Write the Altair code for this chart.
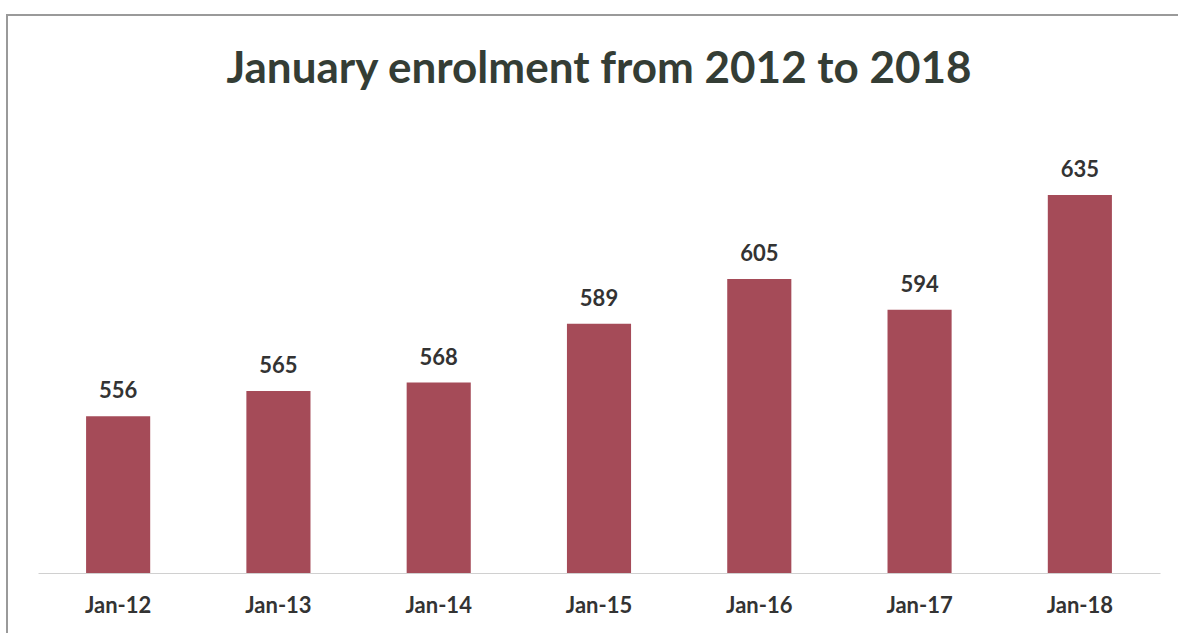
import altair as alt
import pandas as pd

months = ["Jan-12", "Jan-13", "Jan-14", "Jan-15", "Jan-16", "Jan-17", "Jan-18"]
enrolment = [556, 565, 568, 589, 605, 594, 635]
title_text = "January enrolment from 2012 to 2018"

df = pd.DataFrame({"month": months, "enrolment": enrolment})

FONT = "Lato"

x = alt.X("month:N", sort=months, title=None,
          scale=alt.Scale(paddingInner=0.6, paddingOuter=0.3),
          axis=alt.Axis(labelAngle=0, labelFont=FONT, labelFontSize=22, labelFontWeight="bold",
                        labelColor="#333333", labelPadding=22, ticks=False,
                        domain=True, domainColor="#d0d0d0", domainWidth=1))
y = alt.Y("enrolment:Q", title=None,
          scale=alt.Scale(domain=[500, 660], zero=False, nice=False),
          axis=None)

frame = alt.Chart(pd.DataFrame({"a": [0]})).mark_rect(
    fill=None, stroke="#9a9a9a", strokeWidth=2
).encode(x=alt.value(-31), x2=alt.value(1200), y=alt.value(-110), y2=alt.value(700))

title = alt.Chart(pd.DataFrame({"t": [title_text]})).mark_text(
    font=FONT, fontSize=44, fontWeight="bold", color="#343d35",
    align="center", baseline="alphabetic"
).encode(x=alt.value(561), y=alt.value(-42), text="t:N")

bars = alt.Chart(df).mark_bar(color="#a54b58", clip=True).encode(x=x, y=y)

labels = alt.Chart(df).mark_text(
    font=FONT, fontSize=22, fontWeight="bold", color="#333333",
    baseline="alphabetic", dy=-18
).encode(x=alt.X("month:N", sort=months), y="enrolment:Q", text="enrolment:Q")

chart = alt.layer(frame, title, bars, labels).properties(
    width=1122, height=448,
    autosize="none",
    padding={"left": 38, "top": 125, "right": 18, "bottom": 60},
).configure(background="white", view=alt.ViewConfig(stroke=None, strokeWidth=0))

chart.save("out.html", embed_options={"renderer": "svg", "actions": False})
